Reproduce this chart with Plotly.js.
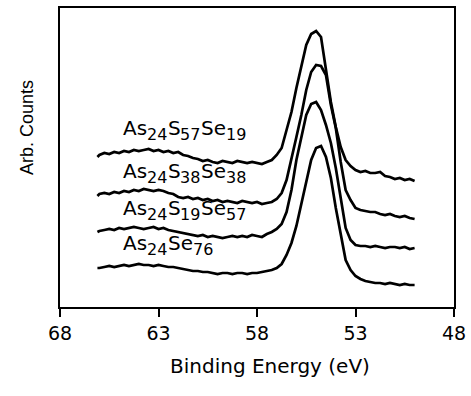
<!DOCTYPE html>
<html>
<head>
<meta charset="utf-8">
<script src="https://cdn.plot.ly/plotly-3.0.1.min.js"></script>
<style>html,body{margin:0;padding:0;background:#fff;}#chart{width:471px;height:396px;}</style>
</head>
<body>
<div id="chart"></div>
<script>
// Binding energy (eV)
const energy = [66.1,66.0,65.75,65.5,65.25,65.0,64.75,64.5,64.25,64.0,63.75,63.5,63.25,63.0,62.75,62.5,62.25,62.0,61.75,61.5,61.25,61.0,60.75,60.5,60.25,60.0,59.75,59.5,59.25,59.0,58.75,58.5,58.25,58.0,57.75,57.5,57.25,57.0,56.75,56.5,56.25,56.0,55.75,55.5,55.25,55.0,54.75,54.5,54.25,54.0,53.75,53.5,53.25,53.0,52.75,52.5,52.25,52.0,51.75,51.5,51.25,51.0,50.75,50.5,50.25,50.0];

// Counts (arbitrary units, offset spectra)
const countsS57Se19 = [150,152,154,153,155,154,156,155,157,156,157,158,156,157,155,156,154,155,152,151,149,148,146,147,145,144,146,145,144,146,145,144,145,144,143,145,147,152,159,177,195,219,242,262,273,276,270,239,205,180,160,147,141,137,135,136,134,134,135,131,130,128,129,127,128,126];
const countsS38Se38 = [111,113,114,113,115,114,116,115,117,116,118,117,116,117,116,114,113,110,109,110,108,109,107,108,106,107,105,106,105,104,106,105,104,105,103,104,105,108,114,127,147,170,192,217,235,242,241,232,202,179,145,117,107,99,97,96,95,95,93,92,93,91,90,91,89,88];
const countsS19Se57 = [75,76,77,78,77,79,78,79,80,79,78,79,80,78,79,77,76,75,74,73,72,71,72,70,71,70,69,70,71,70,71,70,72,71,70,73,75,78,83,95,117,147,169,192,203,205,197,182,164,139,109,79,67,62,61,61,60,61,60,59,60,60,59,60,58,59];
const countsSe76 = [39,39,40,41,40,41,42,41,42,43,42,42,41,42,41,40,40,39,38,37,36,36,35,35,34,33,34,34,33,34,34,33,34,34,35,36,37,39,43,52,64,81,104,127,147,159,161,150,129,99,74,47,37,31,28,26,25,24,24,23,24,23,22,23,22,22];

// Series labels: element symbols and subscripts
const seriesNames = ['As<sub>24</sub>S<sub>57</sub>Se<sub>19</sub>','As<sub>24</sub>S<sub>38</sub>Se<sub>38</sub>','As<sub>24</sub>S<sub>19</sub>Se<sub>57</sub>','As<sub>24</sub>Se<sub>76</sub>'];
const seriesValues = [countsS57Se19, countsS38Se38, countsS19Se57, countsSe76];

const tickValues = [68, 63, 58, 53, 48];
const tickLabels = ['68', '63', '58', '53', '48'];
const xTitle = 'Binding Energy (eV)';
const yTitle = 'Arb. Counts';

// label anchor points (data coordinates)
const labelX = [64.85, 64.85, 64.85, 64.85];
const labelY = [179, 136, 99, 64];

const MAIN_SIZE = 20, SUB_SIZE = 16, FAMILY = 'DejaVu Sans';
const ctx = document.createElement('canvas').getContext('2d');
function textWidth(t, size) { ctx.font = size + 'px "' + FAMILY + '"'; return ctx.measureText(t).width; }

function labelPieces(name) {
  const parts = [];
  const re = /([^<]+)|<sub>(.*?)<\/sub>/g;
  let m;
  while ((m = re.exec(name)) !== null) {
    if (m[1] !== undefined) parts.push({t: m[1], sub: false});
    else parts.push({t: m[2], sub: true});
  }
  return parts;
}

const traces = seriesValues.map((vals, i) => ({
  x: energy, y: vals, type: 'scatter', mode: 'lines', name: seriesNames[i].replace(/<\/?sub>/g, ''),
  line: {color: '#000', width: 2.7}, hoverinfo: 'skip', showlegend: false
}));

const annotations = [];
seriesNames.forEach((n, i) => {
  let off = 0;
  labelPieces(n).forEach(p => {
    const size = p.sub ? SUB_SIZE : MAIN_SIZE;
    annotations.push({
      x: labelX[i], y: labelY[i], xref: 'x', yref: 'y', text: p.t,
      showarrow: false, xanchor: 'left', yanchor: 'middle',
      xshift: off, yshift: p.sub ? -6 : 0, borderpad: 0,
      font: {family: FAMILY, size: size, color: '#000'}
    });
    off += textWidth(p.t, size);
  });
});

const W = 471, H = 396, ml = 60, mr = 17, mt = 8, mb = 89;
const pw = W - ml - mr, ph = H - mt - mb;
annotations.push({
  xref: 'paper', yref: 'paper', x: (270 - ml) / pw, y: 1 - (366 - mt) / ph,
  xanchor: 'center', yanchor: 'middle', text: xTitle, showarrow: false,
  font: {family: FAMILY, size: 20, color: '#000'}
});
annotations.push({
  xref: 'paper', yref: 'paper', x: (27 - ml) / pw, y: 1 - (128 - mt) / ph,
  xanchor: 'center', yanchor: 'middle', text: yTitle, showarrow: false, textangle: -90,
  font: {family: 'Liberation Sans, Arial, sans-serif', size: 18, color: '#000'}
});

const layout = {
  width: W, height: H,
  margin: {l: ml, r: mr, t: mt, b: mb, pad: 0},
  paper_bgcolor: '#fff', plot_bgcolor: '#fff',
  showlegend: false,
  xaxis: {
    range: [68, 48], tickmode: 'array', tickvals: tickValues, ticktext: tickLabels,
    ticks: 'outside', ticklen: 8, tickwidth: 2, tickcolor: '#000',
    showline: true, linewidth: 2, linecolor: '#000', mirror: true,
    showgrid: false, zeroline: false,
    tickfont: {family: FAMILY, size: 19, color: '#000'}
  },
  yaxis: {
    range: [0, 299], showticklabels: false, ticks: '',
    showline: true, linewidth: 2, linecolor: '#000', mirror: true,
    showgrid: false, zeroline: false
  },
  annotations: annotations
};

Plotly.newPlot('chart', traces, layout, {displayModeBar: false, staticPlot: true});
</script>
</body>
</html>
